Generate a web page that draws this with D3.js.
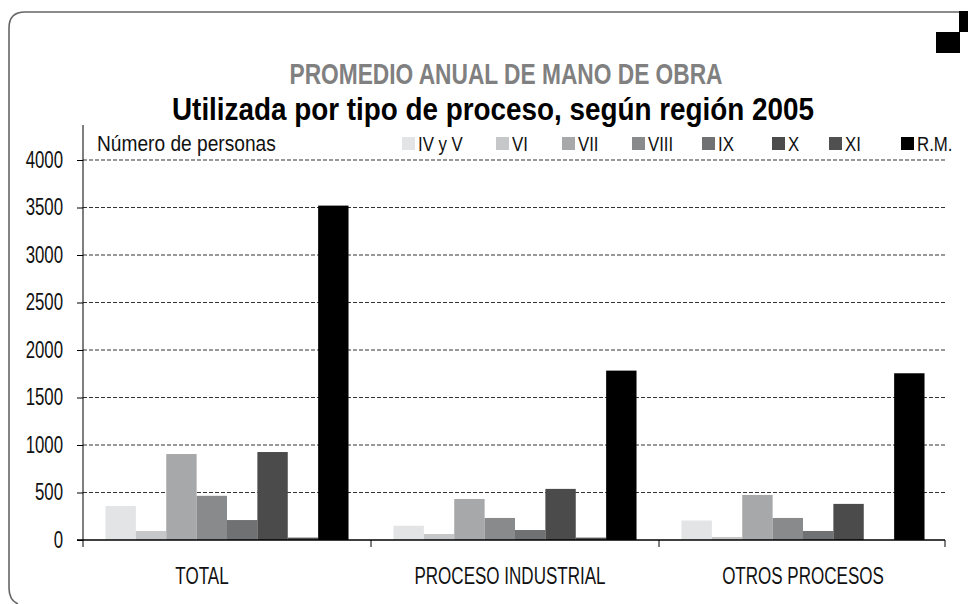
<!DOCTYPE html>
<html>
<head>
<meta charset="utf-8">
<script src="https://cdn.jsdelivr.net/npm/d3@7"></script>
<style>
  body { margin: 0; background: #fff; }
  text { font-family: "Liberation Sans", Arial, sans-serif; }
</style>
</head>
<body>
<svg id="chart" width="968" height="604"></svg>
<script>
const categories = ["TOTAL", "PROCESO INDUSTRIAL", "OTROS PROCESOS"];
const regions = ["IV y V", "VI", "VII", "VIII", "IX", "X", "XI", "R.M."];

// valores por región, en el orden de categories
const ivyv = [358, 150, 205];
const vi = [95, 63, 32];
const vii = [905, 432, 474];
const viii = [465, 232, 232];
const ix = [210, 105, 95];
const x_ = [926, 538, 380];
const xi = [25, 25, 0];
const rm = [3520, 1783, 1755];

const yTicks = [0, 500, 1000, 1500, 2000, 2500, 3000, 3500, 4000];

const series = [ivyv, vi, vii, viii, ix, x_, xi, rm];
const colors = ["#e3e4e5", "#c6c7c8", "#a7a8a9", "#898a8b", "#707172", "#4b4b4c", "#505050", "#000000"];

const svg = d3.select("#chart");
const plotLeft = 83, plotRight = 947, plotTop = 160, plotBottom = 540;

// estrecha el texto (la fuente original es condensada)
function condense(sel, k) {
  sel.each(function() {
    const w = this.getComputedTextLength();
    d3.select(this).attr("textLength", w * k).attr("lengthAdjust", "spacingAndGlyphs");
  });
}

// marco redondeado
svg.append("path")
  .attr("d", "M959,12 L25,12 Q9,12 9,28 L9,588 Q9,600 18,604")
  .attr("fill", "none")
  .attr("stroke", "#666")
  .attr("stroke-width", 1.6);
svg.append("rect").attr("x", 959).attr("y", 11).attr("width", 9).attr("height", 21).attr("fill", "#000");
svg.append("rect").attr("x", 936).attr("y", 32).attr("width", 24).attr("height", 21).attr("fill", "#000");

// títulos
svg.append("text")
  .attr("x", 506).attr("y", 84)
  .attr("text-anchor", "middle")
  .attr("font-size", 30).attr("font-weight", "bold")
  .attr("fill", "#808080")
  .attr("textLength", 433).attr("lengthAdjust", "spacingAndGlyphs")
  .text("PROMEDIO ANUAL DE MANO DE OBRA");
svg.append("text")
  .attr("x", 493).attr("y", 120)
  .attr("text-anchor", "middle")
  .attr("font-size", 32).attr("font-weight", "bold")
  .attr("fill", "#000")
  .attr("textLength", 642).attr("lengthAdjust", "spacingAndGlyphs")
  .text("Utilizada por tipo de proceso, según región 2005");

const x0 = d3.scaleBand().domain(categories).range([plotLeft, plotRight]);
const x1 = d3.scaleBand().domain(regions).range([0, x0.bandwidth()]).paddingOuter(0.74);
const y = d3.scaleLinear().domain([0, 4000]).range([plotBottom, plotTop]);

// rejilla
svg.append("g").selectAll("line")
  .data(yTicks.filter(d => d > 0))
  .join("line")
  .attr("x1", plotLeft).attr("x2", 945)
  .attr("y1", d => y(d)).attr("y2", d => y(d))
  .attr("stroke", "#333")
  .attr("stroke-width", 1)
  .attr("stroke-dasharray", "4,2");

// barras
const groups = svg.append("g").selectAll("g")
  .data(categories)
  .join("g")
  .attr("transform", d => `translate(${x0(d)},0)`);

groups.selectAll("rect")
  .data((c, ci) => regions.map((r, ri) => ({ r, ri, v: series[ri][ci] })))
  .join("rect")
  .attr("x", d => x1(d.r))
  .attr("width", x1.bandwidth())
  .attr("y", d => y(d.v))
  .attr("height", d => y(0) - y(d.v))
  .attr("fill", d => colors[d.ri]);

// eje y
const yAxis = svg.append("g")
  .attr("transform", `translate(${plotLeft},0)`)
  .call(d3.axisLeft(y).tickValues(yTicks).tickFormat(d3.format("d")).tickSize(6).tickPadding(14));
yAxis.select(".domain").remove();
yAxis.selectAll("line").attr("stroke", "#000");
yAxis.selectAll("text")
  .attr("font-size", 23)
  .attr("fill", "#111")
  .attr("font-family", "Liberation Sans, Arial, sans-serif")
  .call(condense, 0.73);
svg.append("line")
  .attr("x1", plotLeft).attr("x2", plotLeft)
  .attr("y1", 125).attr("y2", plotBottom + 7)
  .attr("stroke", "#000");

// eje x
svg.append("line")
  .attr("x1", plotLeft - 6).attr("x2", 945)
  .attr("y1", plotBottom).attr("y2", plotBottom)
  .attr("stroke", "#000").attr("stroke-width", 1.5);
svg.append("g").selectAll("line")
  .data(categories)
  .join("line")
  .attr("x1", d => Math.min(x0(d) + x0.bandwidth(), 945))
  .attr("x2", d => Math.min(x0(d) + x0.bandwidth(), 945))
  .attr("y1", plotBottom).attr("y2", plotBottom + 7)
  .attr("stroke", "#000");
svg.append("g").selectAll("text")
  .data(categories)
  .join("text")
  .attr("x", (d, i) => x0(d) + x0.bandwidth() / 2 + (i === 0 ? -25 : i === 1 ? -5 : 0))
  .attr("y", 584)
  .attr("text-anchor", "middle")
  .attr("font-size", 23)
  .attr("fill", "#111")
  .text(d => d)
  .call(condense, 0.74);

// etiqueta eje y
svg.append("text")
  .attr("x", 97).attr("y", 151)
  .attr("font-size", 22)
  .attr("fill", "#111")
  .text("Número de personas")
  .call(condense, 0.87);

// leyenda
const legendX = [402, 496, 562, 632, 702, 772, 829, 901];
const legend = svg.append("g").selectAll("g")
  .data(regions)
  .join("g")
  .attr("transform", (d, i) => `translate(${legendX[i]},137)`);
legend.append("rect")
  .attr("width", 13).attr("height", 13)
  .attr("fill", (d, i) => colors[i]);
legend.append("text")
  .attr("x", 16).attr("y", 14)
  .attr("font-size", 21)
  .attr("fill", "#111")
  .text(d => d)
  .call(condense, 0.8);
</script>
</body>
</html>
